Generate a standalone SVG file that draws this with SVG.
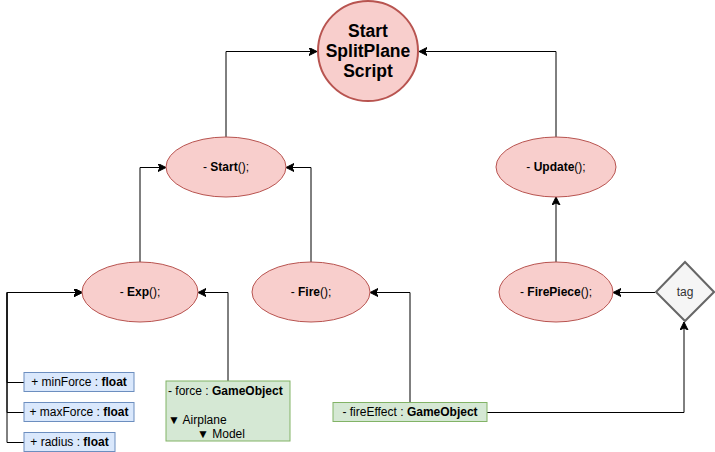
<svg xmlns="http://www.w3.org/2000/svg" width="715" height="452" viewBox="0 0 715 452">
<defs>
<marker id="arr" markerUnits="userSpaceOnUse" markerWidth="10" markerHeight="10" refX="8" refY="4" orient="auto">
<path d="M0,0 L8,4 L0,8 L2,4 Z" fill="#000" stroke="#000" stroke-width="1"/>
</marker>
<style>
text{font-family:"Liberation Sans",Arial,sans-serif;font-size:12px;fill:#000}
.red{fill:#f8cecc;stroke:#b85450;stroke-width:1}
.blue{fill:#dae8fc;stroke:#6c8ebf;stroke-width:1}
.green{fill:#d5e8d4;stroke:#82b366;stroke-width:1}
.gray{fill:#f5f5f5;stroke:#666666;stroke-width:2}
.b{font-weight:bold}
.c{text-anchor:middle}
.big{font-size:17.5px}
.edge{fill:none;stroke:#000;stroke-width:1;marker-end:url(#arr)}
</style>
</defs>
<rect width="715" height="452" fill="#fff"/>
<g id="connectors">
<path class="edge" d="M226,137 V51.5 H317"/>
<path class="edge" d="M556,137 V51.5 H419"/>
<path class="edge" d="M140,262 V167.5 H166"/>
<path class="edge" d="M311,262 V167.5 H286"/>
<path class="edge" d="M556,262 V197"/>
<path class="edge" d="M655,292.5 H613"/>
<path class="edge" d="M228,381 V292.5 H198"/>
<path class="edge" d="M410,402 V292.5 H370"/>
<path class="edge" d="M487,412.5 H684 V322"/>
<path class="edge" d="M24,382.5 H7 V292.5 H82"/>
<path class="edge" d="M24,412.5 H7 V292.5 H82"/>
<path class="edge" d="M24,442.5 H7 V292.5 H82"/>
</g>
<g id="startScript">
<circle class="red" cx="368" cy="51" r="50" style="stroke-width:2"/>
<text class="b c big" x="368" y="37">Start</text>
<text class="b c big" x="368" y="57">SplitPlane</text>
<text class="b c big" x="368" y="77">Script</text>
</g>
<g id="start">
<ellipse class="red" cx="226" cy="167" rx="60" ry="30"/>
<text class="c" x="226" y="171.2">- <tspan class="b">Start</tspan>();</text>
</g>
<g id="update">
<ellipse class="red" cx="556" cy="167" rx="60" ry="30"/>
<text class="c" x="556" y="171.2">- <tspan class="b">Update</tspan>();</text>
</g>
<g id="exp">
<ellipse class="red" cx="140" cy="292" rx="58" ry="30"/>
<text class="c" x="140" y="296.2">- <tspan class="b">Exp</tspan>();</text>
</g>
<g id="fire">
<ellipse class="red" cx="311" cy="292" rx="59" ry="30"/>
<text class="c" x="311" y="296.2">- <tspan class="b">Fire</tspan>();</text>
</g>
<g id="firePiece">
<ellipse class="red" cx="556" cy="292" rx="57" ry="30"/>
<text class="c" x="556" y="296.2">- <tspan class="b">FirePiece</tspan>();</text>
</g>
<g id="tag">
<path class="gray" d="M685,262 L714,292 L685,321 L656,292 Z"/>
<text class="c" x="685" y="296.2" style="fill:#333333">tag</text>
</g>
<g id="minForce">
<rect class="blue" x="24" y="372.5" width="110" height="19"/>
<text class="c" x="79" y="386.2">+ minForce : <tspan class="b">float</tspan></text>
</g>
<g id="maxForce">
<rect class="blue" x="24" y="402.5" width="110" height="19"/>
<text class="c" x="79" y="416.2">+ maxForce : <tspan class="b">float</tspan></text>
</g>
<g id="radius">
<rect class="blue" x="24" y="432.5" width="91" height="19"/>
<text class="c" x="69.5" y="446.2">+ radius : <tspan class="b">float</tspan></text>
</g>
<g id="force">
<rect class="green" x="166" y="381" width="124" height="60"/>
<text x="168" y="395">- force : <tspan class="b">GameObject</tspan></text>
<text x="168" y="423.5">▼ Airplane</text>
<text x="197" y="438">▼ Model</text>
</g>
<g id="fireEffect">
<rect class="green" x="333" y="402.5" width="154" height="19"/>
<text class="c" x="410" y="416.2">- fireEffect : <tspan class="b">GameObject</tspan></text>
</g>
</svg>
